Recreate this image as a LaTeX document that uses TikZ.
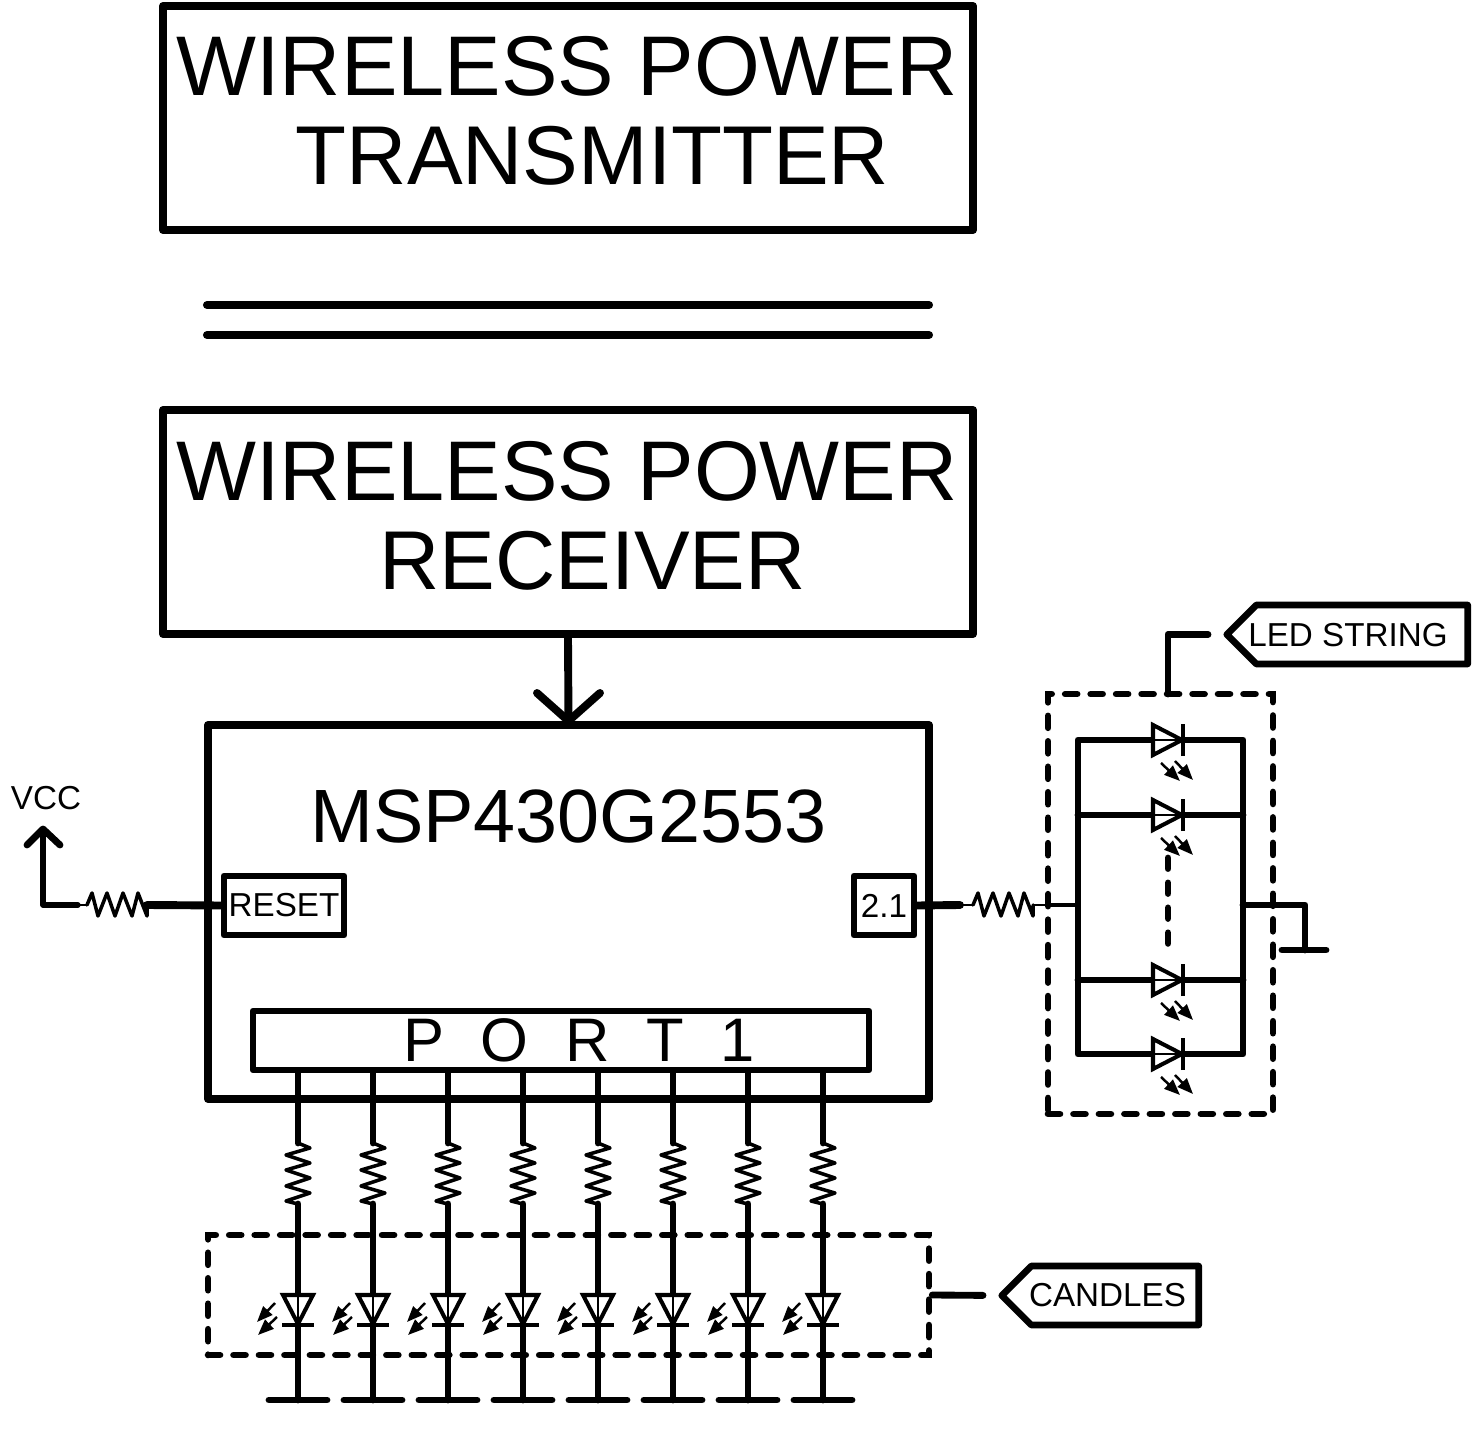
\documentclass[tikz,border=0pt]{standalone}
\usepackage{fontspec}
\setmainfont{Liberation Sans}
\usetikzlibrary{arrows.meta}
\usetikzlibrary{shapes.symbols}
\newcommand{\hugefnt}{\fontsize{48.2}{50.4}\selectfont}
\newcommand{\hugeless}{\fontsize{47.5}{50.4}\selectfont}
\newcommand{\chipfnt}{\fontsize{43}{44}\selectfont}
\newcommand{\portfnt}{\fontsize{35}{36}\selectfont}
\newcommand{\smallfnt}{\fontsize{18.9}{20}\selectfont}
\tikzset{
    bigbox/.style={draw,line width=4.6pt,line join=round,inner sep=0pt,minimum width=16.2cm,minimum height=4.48cm},
    bigtext/.style={inner sep=0pt,align=center,font=\hugefnt},
    pinbox/.style={draw,line width=3.8pt,line join=round,inner sep=0pt,minimum height=1.18cm,font=\smallfnt},
    dashbox/.style={draw,line width=3.8pt,line cap=round,dash pattern=on 6.8pt off 7.7pt,inner sep=0pt},
    tagbox/.style={draw,signal,signal to=west,signal pointer angle=90,line width=3.8pt,line join=round,inner sep=0pt,minimum height=1.18cm},
    tagtext/.style={inner sep=0pt,font=\smallfnt},
    wire/.style={line width=3.9pt,line cap=round,line join=round},
    fatwire/.style={line width=4.5pt,line cap=round,line join=round},
    thinwire/.style={line width=1pt},
    zig/.style={line width=2pt,line join=round,line cap=round},
    coil/.style={line width=4.6pt,line cap=round},
    lightarrow/.style={line width=1.4pt,-{Stealth[length=9pt,width=7pt,inset=0pt]}},
    pics/ledsym/.style={code={
        \draw[line width=2.3pt,fill=white,line join=miter] (-15,-30) -- (15,-30) -- (0,-1) -- cycle;
        \draw[line width=1pt] (0,-30) -- (0,0);
        \draw[line width=2.3pt] (-16,0) -- (16,0);
        \draw[lightarrow] (-23,-22) -- (-41,-3);
        \draw[lightarrow] (-21,-8) -- (-40,10);
    }},
    pics/reszigv/.style={code={
        \coordinate (-a) at (0,0);
        \coordinate (-b) at (0,61);
        \draw[zig] (0,0) -- (12,5) -- (-12,12) -- (12,20) -- (-12,27) -- (12,35) -- (-12,43) -- (12,50) -- (-12,58) -- (0,61);
    }},
    pics/reszigh/.style={code={
        \coordinate (-a) at (0,0);
        \coordinate (-b) at (60,0);
        \draw[zig] (0,0) -- (5,-12) -- (11,11) -- (20,-12) -- (28,11) -- (36,-12) -- (45,11) -- (51,-12) -- (60,11) -- (60,0);
    }}
}

\begin{document}
\begin{tikzpicture}[x=0.02cm,y=-0.02cm]
    \useasboundingbox (0,0) rectangle (1472,1429);
    % wireless power blocks
    \node[bigbox] (transmitter) at (568,118) {};
    \node[bigtext] (txlabel) at (567,111) {WIRELESS POWER\\\hugeless\hspace*{1.02cm}TRANSMITTER};
    \node[bigbox] (receiver) at (568,522) {};
    \node[bigtext] (rxlabel) at (567,516) {WIRELESS POWER\\\hugeless\hspace*{1.02cm}RECEIVER};
    \coordinate (coilAa) at (207,305);
    \coordinate (coilAb) at (929,305);
    \coordinate (coilBa) at (207,335);
    \coordinate (coilBb) at (929,335);
    \draw[coil] (coilAa)--(coilAb);
    \draw[coil] (coilBa)--(coilBb);

    % micro controller
    \node[draw,line width=4.6pt,line join=round,inner sep=0pt,minimum width=14.42cm,minimum height=7.48cm] (mcu) at (568.5,912) {};
    \node[font=\chipfnt,inner sep=0pt] (mcuname) at (568.5,816) {MSP430G2553};
    \node[pinbox,minimum width=2.4cm] (reset) at (284,905.5) {RESET};
    \node[pinbox,minimum width=1.2cm] (pin) at (884,905.5) {2.1};
    \node[pinbox,minimum width=12.32cm,font=\portfnt] (port) at (561,1040.5) {\hspace*{0.72cm}P\hspace{0.735cm}O\hspace{0.735cm}R\hspace{0.735cm}T\hspace{0.735cm}1};
    \draw[fatwire] (receiver.south)--(mcu.north);
    \coordinate (headl) at (537,693);
    \coordinate (headr) at (600,693);
    \draw[fatwire] (headl)--(mcu.north)--(headr);

    % reset pull up
    \node[font=\smallfnt,inner sep=0pt] (vcc) at (46,798) {VCC};
    \coordinate (vcctip) at (43,829);
    \coordinate (vcccorner) at (43,905);
    \coordinate (vccend) at (78,905);
    \coordinate (vccl) at (27,845);
    \coordinate (vccr) at (60,845);
    \pic (rreset) at (87,905) {reszigh};
    \draw[wire,line width=3pt] (vcctip)--(vcccorner)--(vccend);
    \draw[thinwire] (vccend)--(rreset-a);
    \draw[wire] (vccl)--(vcctip)--(vccr);
    \draw[fatwire] (rreset-b)--(reset.west);

    % led string
    \node[dashbox,minimum width=4.5cm,minimum height=8.4cm] (ledbox) at (1160.5,904) {};
    \node[tagbox,minimum width=4.82cm] (ledtag) at (1362,634.5) {};
    \node[tagtext] (ledname) at (1348,635) {LED STRING};
    \coordinate (ledtop) at (1168,694);
    \draw[wire,shorten >=8pt] (ledtop)|-(ledtag.west);
    \coordinate (busla) at (1078,740);
    \coordinate (buslb) at (1078,1054);
    \coordinate (busra) at (1243,740);
    \coordinate (busrb) at (1243,1054);
    \draw[wire] (busla)--(busra)--(busrb)--(buslb)--cycle;
    \foreach \y in {815,980}{
        \draw[wire] (1078,\y)--(1243,\y);
    }
    \foreach \y in {740,815,980,1054}{
        \pic[rotate=90] at (1183,\y) {ledsym};
    }
    \coordinate (dotsa) at (1168,858);
    \coordinate (dotsb) at (1168,946);
    \draw[wire,dash pattern=on 6pt off 8.2pt] (dotsa)--(dotsb);
    \pic (rled) at (973,905) {reszigh};
    \coordinate (busin) at (1078,905);
    \coordinate (busout) at (1243,905);
    \coordinate (gndtop) at (1305,950);
    \coordinate (gndl) at (1282,950);
    \coordinate (gndr) at (1326,950);
    \draw[fatwire] (pin.east)--(960,905);
    \draw[thinwire] (960,905)--(rled-a);
    \draw[thinwire] (rled-b)--(1048,905);
    \draw[wire,line width=2.8pt] (1048,905)--(busin);
    \draw[wire] (busout)-|(gndtop);
    \draw[wire] (gndl)--(gndr);

    % candles
    \node[dashbox,minimum width=14.42cm,minimum height=2.4cm] (candlebox) at (568.5,1295) {};
    \node[tagbox,minimum width=3.94cm] (candletag) at (1115,1295.5) {};
    \node[tagtext] (candlename) at (1107.5,1295.5) {CANDLES};
    \draw[wire,shorten >=8pt] (candlebox.east)--(candletag.west);
    \foreach \x [count=\i] in {298,373,448,523,598,673,748,823}{
        \pic (r\i) at (\x,1143) {reszigv};
        \coordinate (led\i) at (\x,1325);
        \coordinate (gnd\i) at (\x,1400);
        \coordinate (gnd\i l) at ({\x-29},1400);
        \coordinate (gnd\i r) at ({\x+29},1400);
        \draw[wire] (port.south -| led\i)--(r\i-a);
        \draw[wire] (r\i-b)--(led\i)--(gnd\i);
        \draw[wire] (gnd\i l)--(gnd\i r);
        \pic at (led\i) {ledsym};
    }
\end{tikzpicture}
\end{document}
